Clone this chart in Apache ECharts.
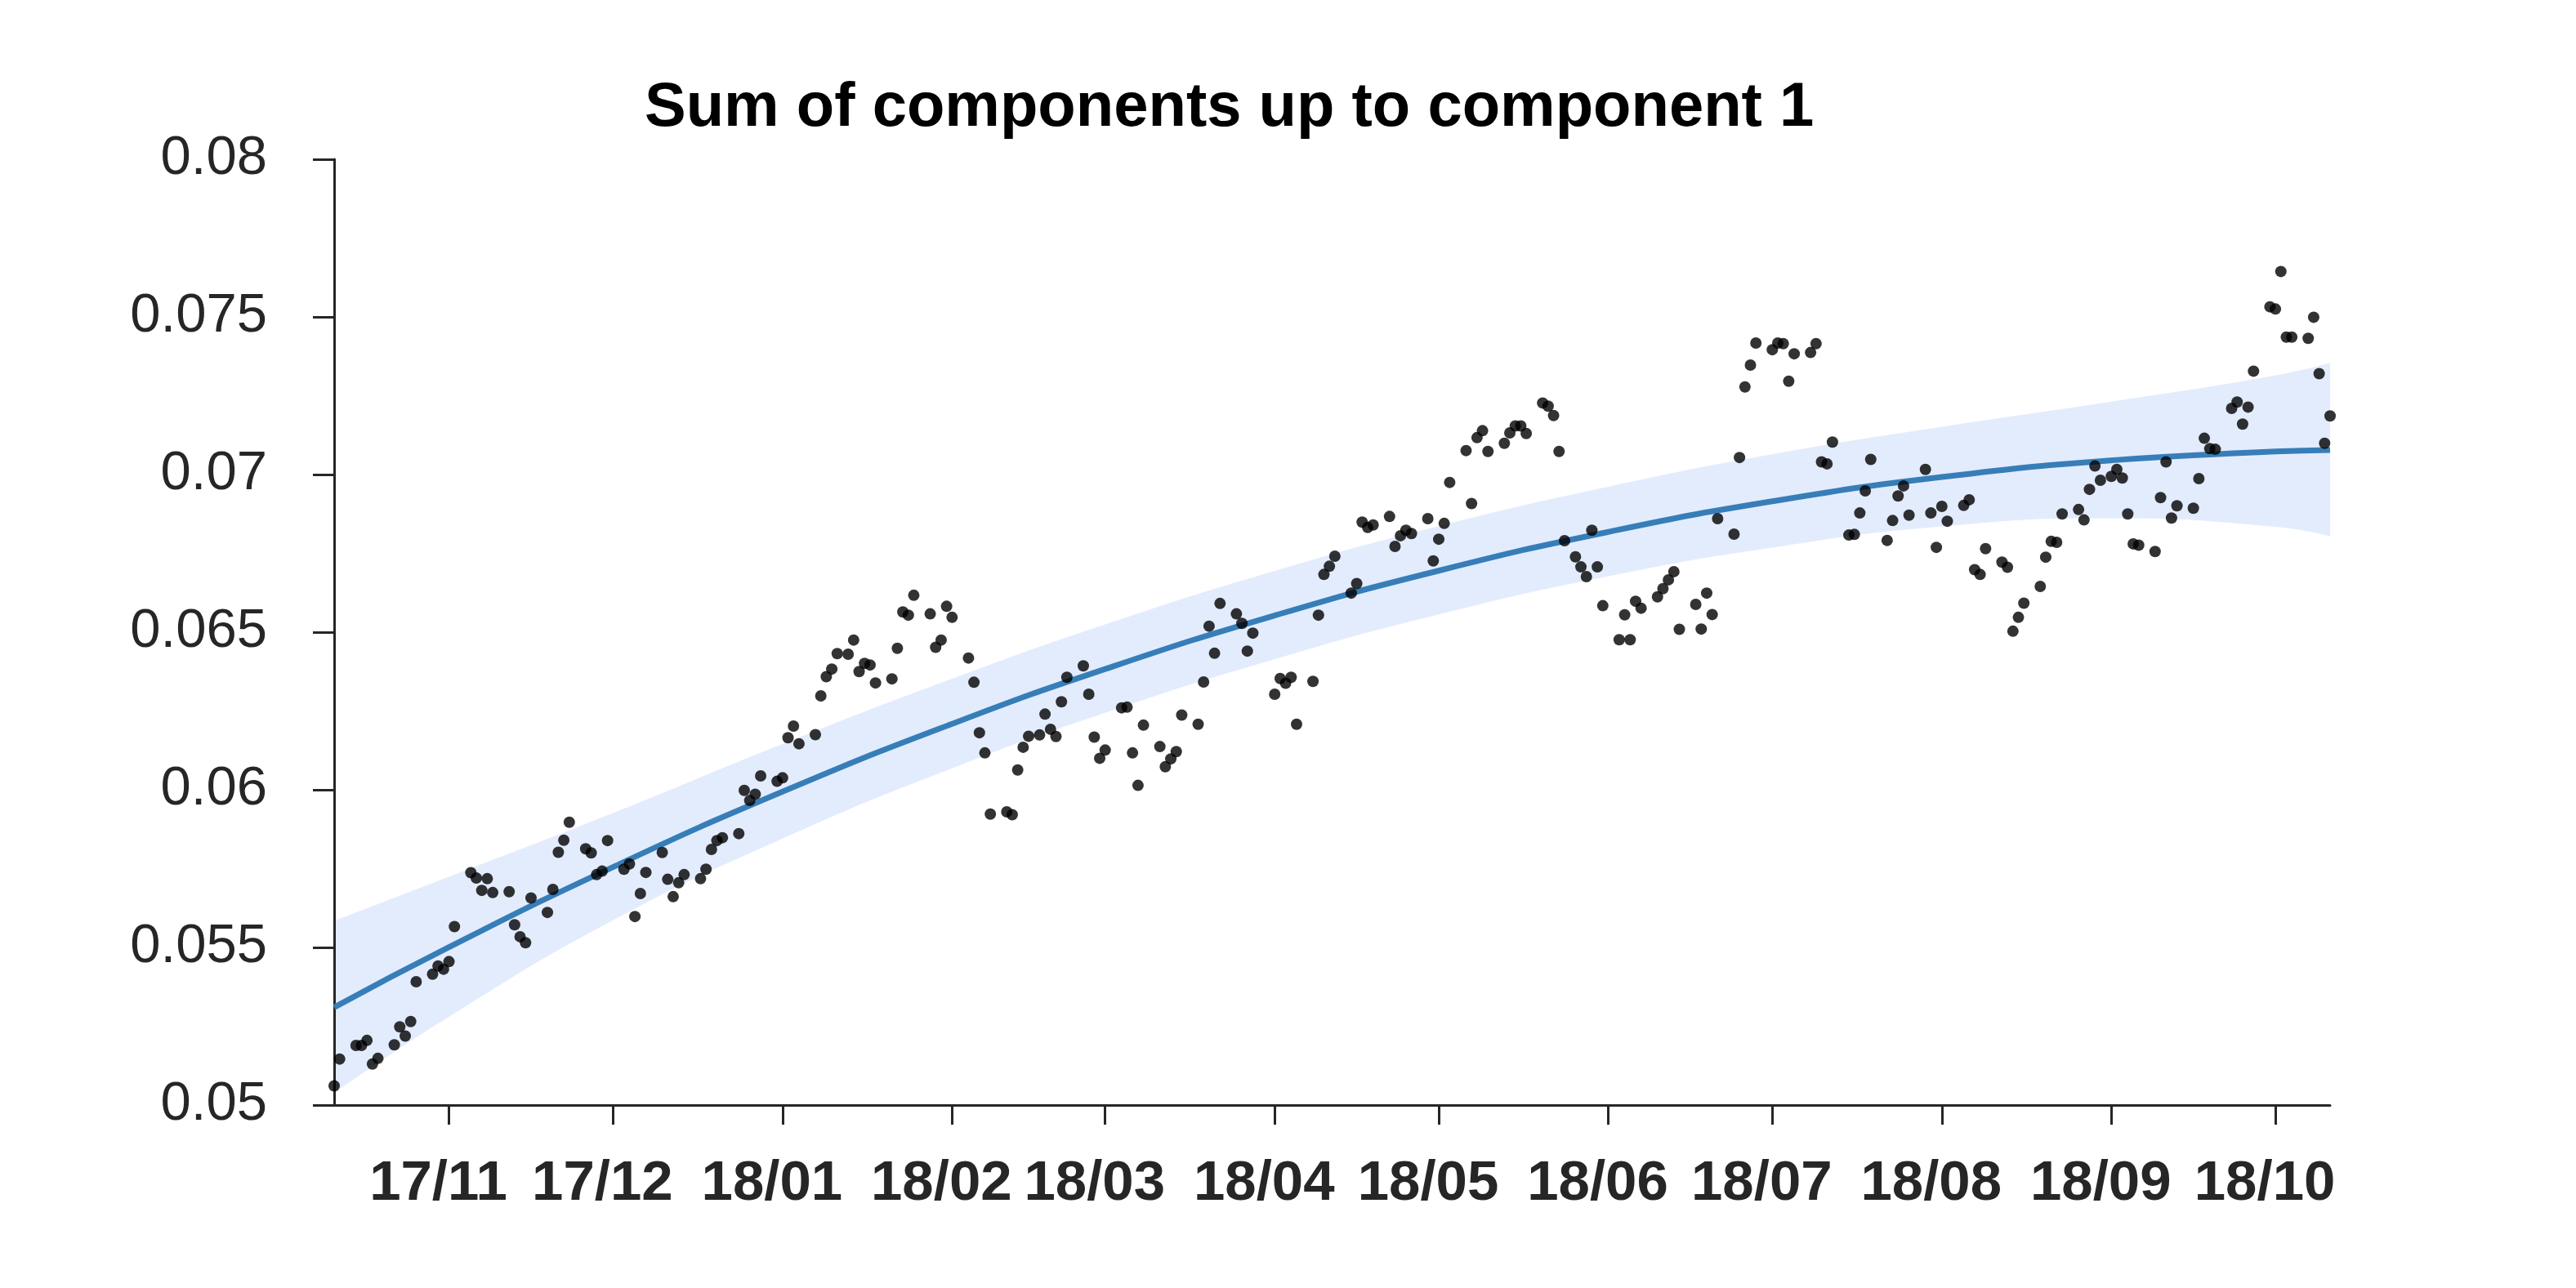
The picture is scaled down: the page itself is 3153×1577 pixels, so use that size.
<!DOCTYPE html>
<html><head><meta charset="utf-8">
<script src="https://cdn.jsdelivr.net/npm/echarts@6/dist/echarts.min.js"></script>
<style>html,body{margin:0;padding:0;background:#fff}#c{width:3153px;height:1577px}</style>
</head><body><div id="c"></div>
<script>
// ---- data ----
const title = 'Sum of components up to component 1';
const dates = [
'2017-10-11','2017-10-12','2017-10-15','2017-10-16','2017-10-17','2017-10-18','2017-10-19','2017-10-22','2017-10-23','2017-10-24',
'2017-10-25','2017-10-26','2017-10-29','2017-10-30','2017-10-31','2017-11-01','2017-11-02','2017-11-05','2017-11-06','2017-11-07',
'2017-11-08','2017-11-09','2017-11-12','2017-11-13','2017-11-14','2017-11-15','2017-11-16','2017-11-19','2017-11-20','2017-11-21',
'2017-11-22','2017-11-23','2017-11-26','2017-11-27','2017-11-28','2017-11-29','2017-11-30','2017-12-03','2017-12-04','2017-12-05',
'2017-12-06','2017-12-07','2017-12-10','2017-12-11','2017-12-12','2017-12-13','2017-12-14','2017-12-17','2017-12-18','2017-12-19',
'2017-12-20','2017-12-21','2017-12-24','2017-12-25','2017-12-26','2017-12-27','2017-12-28','2017-12-31','2018-01-01','2018-01-02',
'2018-01-03','2018-01-04','2018-01-07','2018-01-08','2018-01-09','2018-01-10','2018-01-11','2018-01-13','2018-01-14','2018-01-15',
'2018-01-16','2018-01-17','2018-01-18','2018-01-21','2018-01-22','2018-01-23','2018-01-24','2018-01-25','2018-01-28','2018-01-29',
'2018-01-30','2018-01-31','2018-02-01','2018-02-04','2018-02-05','2018-02-06','2018-02-07','2018-02-08','2018-02-11','2018-02-12',
'2018-02-13','2018-02-14','2018-02-15','2018-02-17','2018-02-18','2018-02-19','2018-02-20','2018-02-21','2018-02-22','2018-02-25',
'2018-02-26','2018-02-27','2018-02-28','2018-03-01','2018-03-04','2018-03-05','2018-03-06','2018-03-07','2018-03-08','2018-03-11',
'2018-03-12','2018-03-13','2018-03-14','2018-03-15','2018-03-18','2018-03-19','2018-03-20','2018-03-21','2018-03-22','2018-03-25',
'2018-03-26','2018-03-27','2018-03-28','2018-04-01','2018-04-02','2018-04-03','2018-04-04','2018-04-05','2018-04-08','2018-04-09',
'2018-04-10','2018-04-11','2018-04-12','2018-04-15','2018-04-16','2018-04-17','2018-04-18','2018-04-19','2018-04-22','2018-04-23',
'2018-04-24','2018-04-25','2018-04-26','2018-04-29','2018-04-30','2018-05-01','2018-05-02','2018-05-03','2018-05-06','2018-05-07',
'2018-05-08','2018-05-09','2018-05-10','2018-05-13','2018-05-14','2018-05-15','2018-05-16','2018-05-17','2018-05-20','2018-05-21',
'2018-05-22','2018-05-23','2018-05-24','2018-05-26','2018-05-27','2018-05-28','2018-05-29','2018-05-30','2018-05-31','2018-06-03',
'2018-06-04','2018-06-05','2018-06-06','2018-06-07','2018-06-10','2018-06-11','2018-06-12','2018-06-13','2018-06-14','2018-06-17',
'2018-06-18','2018-06-19','2018-06-20','2018-06-21','2018-06-24','2018-06-25','2018-06-26','2018-06-27','2018-06-28','2018-07-01',
'2018-07-02','2018-07-03','2018-07-04','2018-07-05','2018-07-08','2018-07-09','2018-07-10','2018-07-11','2018-07-12','2018-07-15',
'2018-07-16','2018-07-17','2018-07-18','2018-07-19','2018-07-22','2018-07-23','2018-07-24','2018-07-25','2018-07-26','2018-07-29',
'2018-07-30','2018-07-31','2018-08-01','2018-08-02','2018-08-05','2018-08-06','2018-08-07','2018-08-08','2018-08-09','2018-08-12',
'2018-08-13','2018-08-14','2018-08-15','2018-08-16','2018-08-19','2018-08-20','2018-08-21','2018-08-22','2018-08-23','2018-08-26',
'2018-08-27','2018-08-28','2018-08-29','2018-08-30','2018-09-01','2018-09-02','2018-09-03','2018-09-04','2018-09-05','2018-09-06',
'2018-09-09','2018-09-10','2018-09-11','2018-09-12','2018-09-13','2018-09-16','2018-09-17','2018-09-18','2018-09-19','2018-09-20',
'2018-09-23','2018-09-24','2018-09-25','2018-09-26','2018-09-27','2018-09-30','2018-10-01','2018-10-02','2018-10-03','2018-10-04',
'2018-10-07','2018-10-08','2018-10-09','2018-10-10','2018-10-11'];
const values = [
0.05061,0.05146,0.05189,0.05189,0.05205,0.05130,0.05148,0.05191,0.05248,0.05219,
0.05265,0.05391,0.05415,0.05441,0.05431,0.05455,0.05566,0.05737,0.05720,0.05681,
0.05718,0.05674,0.05677,0.05572,0.05534,0.05515,0.05657,0.05611,0.05684,0.05802,
0.05840,0.05897,0.05813,0.05800,0.05731,0.05742,0.05839,0.05748,0.05765,0.05598,
0.05671,0.05738,0.05801,0.05716,0.05661,0.05705,0.05731,0.05718,0.05748,0.05811,
0.05839,0.05848,0.05861,0.05998,0.05966,0.05986,0.06044,0.06027,0.06038,0.06165,
0.06202,0.06146,0.06175,0.06298,0.06359,0.06383,0.06432,0.06430,0.06475,0.06375,
0.06401,0.06396,0.06339,0.06352,0.06449,0.06564,0.06554,0.06617,0.06558,0.06452,
0.06475,0.06582,0.06547,0.06418,0.06341,0.06181,0.06117,0.05923,0.05930,0.05921,
0.06063,0.06135,0.06170,0.06174,0.06240,0.06192,0.06169,0.06279,0.06357,0.06393,
0.06303,0.06167,0.06100,0.06126,0.06260,0.06262,0.06117,0.06014,0.06205,0.06137,
0.06073,0.06098,0.06121,0.06237,0.06208,0.06342,0.06519,0.06433,0.06591,0.06558,
0.06528,0.06440,0.06497,0.06303,0.06353,0.06338,0.06357,0.06208,0.06344,0.06554,
0.06683,0.06709,0.06741,0.06624,0.06654,0.06849,0.06832,0.06840,0.06867,0.06772,
0.06806,0.06823,0.06813,0.06860,0.06726,0.06795,0.06845,0.06975,0.07076,0.06908,
0.07117,0.07139,0.07073,0.07099,0.07132,0.07154,0.07154,0.07130,0.07227,0.07217,
0.07187,0.07073,0.06790,0.06739,0.06707,0.06676,0.06823,0.06707,0.06584,0.06476,
0.06555,0.06476,0.06598,0.06576,0.06612,0.06638,0.06666,0.06692,0.06509,0.06588,
0.06510,0.06624,0.06556,0.06860,0.06811,0.07054,0.07278,0.07347,0.07417,0.07396,
0.07417,0.07415,0.07296,0.07383,0.07387,0.07415,0.07040,0.07034,0.07103,0.06808,
0.06810,0.06878,0.06948,0.07048,0.06791,0.06854,0.06932,0.06964,0.06871,0.07016,
0.06878,0.06769,0.06899,0.06852,0.06902,0.06920,0.06698,0.06683,0.06765,0.06722,
0.06706,0.06503,0.06547,0.06592,0.06645,0.06738,0.06788,0.06785,0.06875,0.06889,
0.06856,0.06953,0.07027,0.06982,0.06994,0.07016,0.06989,0.06875,0.06780,0.06776,
0.06756,0.06927,0.07040,0.06862,0.06901,0.06893,0.06987,0.07115,0.07082,0.07080,
0.07210,0.07230,0.07160,0.07214,0.07328,0.07532,0.07525,0.07644,0.07436,0.07436,
0.07432,0.07499,0.07320,0.07099,0.07186];
// fitted curve and its band, read at month boundaries
const fitDates = ['2017-10-11','2017-11-01','2017-12-01','2018-01-01','2018-02-01','2018-03-01','2018-04-01',
  '2018-05-01','2018-06-01','2018-07-01','2018-08-01','2018-09-01','2018-10-01','2018-10-11'];
const fitValues = [0.05310,0.05501,0.05755,0.05994,0.06209,0.06383,0.06553,0.06695,0.06818,0.06915,0.06992,0.07045,0.07073,0.07078];
const bandUpper = [0.05583,0.05723,0.05925,0.06144,0.06351,0.06523,0.06693,0.06835,0.06960,0.07063,0.07150,0.07230,0.07313,0.07353];
const bandLower = [0.05037,0.05279,0.05585,0.05844,0.06067,0.06243,0.06413,0.06555,0.06676,0.06767,0.06834,0.06860,0.06833,0.06803];
// axes
const xMin = '2017-10-11', xMax = '2018-10-11';
const xTickDates = ['2017-11-01','2017-12-01','2018-01-01','2018-02-01','2018-03-01','2018-04-01',
  '2018-05-01','2018-06-01','2018-07-01','2018-08-01','2018-09-01','2018-10-01'];
const xTickLabels = ['17/11','17/12','18/01','18/02','18/03','18/04','18/05','18/06','18/07','18/08','18/09','18/10'];
const yTickValues = [0.05,0.055,0.06,0.065,0.07,0.075,0.08];
const yTickLabels = ['0.05','0.055','0.06','0.065','0.07','0.075','0.08'];

// ---- chart ----
const tp = s => { const p = s.split('-').map(Number); return Date.UTC(p[0], p[1] - 1, p[2]); };
const xTickTimes = xTickDates.map(tp);
const axisCol = '#262626';
const bandCol = '#e3ecfd';
const nearest = (arr, v) => { let best = 0, bd = Infinity; arr.forEach((t, i) => { const d = Math.abs(t - v); if (d < bd) { bd = d; best = i; } }); return best; };
const chart = echarts.init(document.getElementById('c'), null, {renderer: 'canvas'});
chart.setOption({
  backgroundColor: '#ffffff',
  animation: false,
  title: {
    text: title, left: 784, top: 90,
    textStyle: {fontFamily: "'Liberation Sans', Arial, sans-serif", fontWeight: 'bold', fontSize: 76, color: '#000'}
  },
  grid: {left: 409, right: 301, top: 195, bottom: 224, containLabel: false},
  xAxis: {
    type: 'value', min: tp(xMin), max: tp(xMax), z: 5,
    axisLine: {show: true, lineStyle: {color: axisCol, width: 3}},
    axisTick: {show: true, length: 24, lineStyle: {color: axisCol, width: 3}, customValues: xTickTimes},
    axisLabel: {
      customValues: xTickTimes, margin: 62, padding: [0, 26, 0, 0],
      showMinLabel: true, showMaxLabel: true, hideOverlap: false,
      fontFamily: "'Liberation Sans', Arial, sans-serif",
      fontWeight: 'bold', fontSize: 69, lineHeight: 69, color: axisCol,
      formatter: v => xTickLabels[nearest(xTickTimes, v)]
    },
    splitLine: {show: false}
  },
  yAxis: {
    type: 'value', min: 0.05, max: 0.08, interval: 0.005, z: 5,
    axisLine: {show: true, lineStyle: {color: axisCol, width: 3}},
    axisTick: {show: true, length: 26, lineStyle: {color: axisCol, width: 3}},
    axisLabel: {
      margin: 82, fontFamily: "'Liberation Sans', Arial, sans-serif", fontSize: 67, color: axisCol,
      formatter: v => yTickLabels[nearest(yTickValues, v)]
    },
    splitLine: {show: false}
  },
  series: [
    {
      type: 'line', name: 'bandUpper', smooth: true, symbol: 'none', silent: true, z: 1,
      lineStyle: {color: bandCol, width: 1},
      areaStyle: {color: bandCol, opacity: 1, origin: 'start'},
      data: fitDates.map((d, i) => [tp(d), bandUpper[i]])
    },
    {
      type: 'line', name: 'bandLower', smooth: true, symbol: 'none', silent: true, z: 2,
      lineStyle: {color: '#ffffff', width: 1},
      areaStyle: {color: '#ffffff', opacity: 1, origin: 'start'},
      data: fitDates.map((d, i) => [tp(d), bandLower[i]])
    },
    {
      type: 'line', name: 'fit', smooth: true, symbol: 'none', z: 6,
      lineStyle: {color: '#377eb8', width: 7},
      data: fitDates.map((d, i) => [tp(d), fitValues[i]])
    },
    {
      type: 'scatter', name: 'obs', symbol: 'circle', symbolSize: 14, z: 7, clip: false,
      itemStyle: {color: '#000'},
      data: dates.map((d, i) => [tp(d), values[i]])
    }
  ]
});
</script></body></html>
